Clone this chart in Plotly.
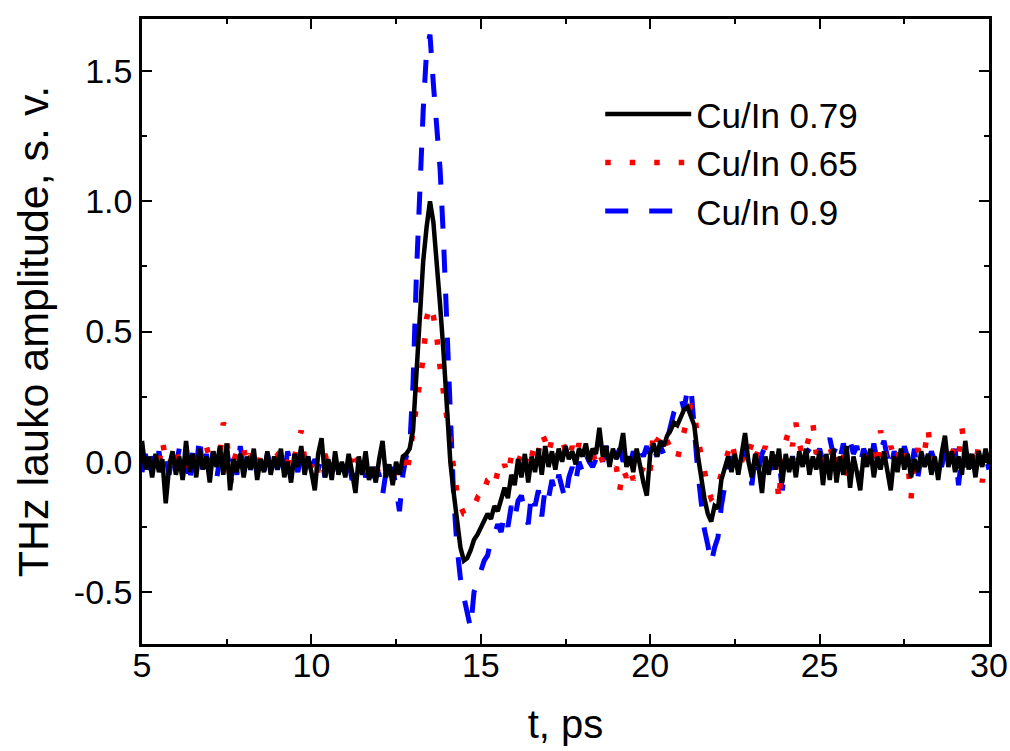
import plotly.graph_objects as go

t_start = 5.0
t_step = 0.1

black_079 = [
    0.08, -0.03, 0.02, -0.06, 0.03, -0.04, 0.01, -0.16, -0.02, 0.04,
    -0.05, 0.02, -0.07, 0.08, -0.04, 0.03, -0.06, 0.05, -0.03, 0.02,
    -0.08, 0.04, -0.02, 0.06, -0.05, 0.07, -0.11, 0.01, -0.04, 0.03,
    -0.06, 0.02, -0.03, 0.05, -0.07, 0.01, -0.04, 0.04, -0.05, 0.02,
    -0.03, 0.05, -0.06, 0.00, -0.08, 0.03, -0.02, 0.06, -0.05, 0.02,
    -0.04, -0.11, 0.03, 0.09, -0.06, 0.01, -0.07, 0.04, -0.05, 0.00,
    -0.06, 0.03, -0.04, -0.12, 0.02, -0.05, 0.04, -0.07, -0.02, -0.08,
    0.01, 0.08, -0.06, -0.01, -0.09, 0.00, -0.05, 0.02, 0.03, 0.05,
    0.12, 0.35, 0.58, 0.77, 0.90, 1.00, 0.92, 0.78, 0.60, 0.42,
    0.18, 0.00, -0.12, -0.24, -0.33, -0.38, -0.37, -0.34, -0.30, -0.28,
    -0.25, -0.22, -0.20, -0.22, -0.17, -0.19, -0.15, -0.10, -0.14, -0.05,
    -0.09, 0.01, -0.06, 0.03, -0.08, 0.02, -0.04, 0.05, -0.05, 0.06,
    -0.02, 0.04, -0.03, 0.05, 0.00, 0.06, 0.01, 0.04, -0.01, 0.05,
    0.02, 0.07, 0.00, 0.05, 0.03, 0.13, 0.02, 0.06, -0.02, 0.05,
    0.01, 0.04, 0.11, -0.02, 0.02, -0.04, 0.05, -0.02, -0.08, -0.13,
    0.03, 0.07, 0.02, 0.08, 0.06, 0.10, 0.12, 0.15, 0.14, 0.17,
    0.20, 0.21, 0.17, 0.14, 0.03, -0.07, -0.14, -0.20, -0.23, -0.17,
    -0.18, -0.07, -0.02, 0.02, -0.04, 0.03, -0.05, 0.04, 0.11, 0.00,
    -0.06, 0.03, -0.02, -0.12, 0.02, -0.05, 0.04, -0.03, 0.05, -0.08,
    0.03, -0.04, 0.02, -0.06, 0.04, -0.02, 0.05, -0.05, 0.02, -0.03,
    0.04, -0.09, 0.03, -0.07, 0.05, -0.08, 0.02, -0.05, 0.06, -0.10,
    0.02, -0.04, -0.11, 0.03, -0.02, 0.05, -0.06, 0.02, -0.03, 0.04,
    -0.05, -0.11, 0.02, -0.04, 0.05, -0.03, 0.03, -0.06, 0.01, -0.04,
    0.04, -0.02, 0.03, -0.05, 0.02, -0.07, 0.03, 0.10, -0.02, 0.04,
    -0.04, 0.02, -0.05, 0.08, -0.03, 0.03, -0.06, 0.04, -0.02, 0.05,
    -0.01,
]

red_065 = [
    0.01, 0.00, 0.03, -0.02, 0.02, -0.01, 0.08, 0.01, -0.02, 0.04,
    0.05, -0.01, 0.00, -0.03, 0.02, 0.04, -0.02, 0.03, 0.00, 0.06,
    0.01, 0.03, -0.02, 0.02, 0.15, 0.11, -0.10, 0.00, 0.04, 0.02,
    0.05, -0.01, 0.03, 0.00, -0.03, 0.02, 0.01, 0.03, -0.02, 0.04,
    0.03, 0.00, 0.02, -0.01, 0.05, 0.02, 0.08, 0.12, 0.01, 0.03,
    -0.02, 0.02, -0.04, 0.00, 0.03, -0.02, 0.01, -0.01, 0.02, -0.03,
    0.00, 0.03, 0.00, 0.05, -0.02, 0.00, -0.04, -0.01, -0.03, -0.05,
    -0.02, 0.00, -0.05, -0.02, -0.06, -0.03, -0.01, 0.02, -0.05, 0.02,
    0.12, 0.22, 0.30, 0.40, 0.55, 0.60, 0.56, 0.48, 0.36, 0.26,
    0.14, 0.04, -0.04, -0.12, -0.17, -0.20, -0.20, -0.18, -0.17, -0.14,
    -0.15, -0.10, -0.07, -0.06, -0.09, -0.04, -0.06, -0.01, -0.05, 0.02,
    0.04, 0.00, 0.03, -0.02, 0.05, 0.02, 0.07, 0.03, 0.11, 0.08,
    0.03, 0.09, 0.05, 0.02, 0.08, 0.04, 0.01, 0.06, 0.02, 0.07,
    0.03, 0.05, 0.00, 0.04, -0.01, 0.03, 0.00, -0.03, 0.02, -0.04,
    -0.02, -0.11, -0.03, -0.06, -0.02, -0.07, -0.03, -0.05, -0.02, -0.06,
    -0.03, 0.12, 0.08, 0.10, 0.12, 0.08, 0.05, 0.02, 0.01, 0.06,
    0.12, 0.18, 0.22, 0.20, 0.09, 0.03, -0.05, -0.10, -0.14, -0.13,
    -0.09, -0.05, -0.01, 0.03, 0.08, 0.02, 0.04, 0.00, 0.05, 0.03,
    0.07, 0.01, 0.05, 0.02, 0.06, -0.02, 0.03, -0.01, -0.15, 0.04,
    0.08, 0.12, 0.06, 0.15, 0.07, 0.02, 0.05, 0.10, 0.15, 0.03,
    0.06, 0.00, 0.03, 0.06, 0.01, 0.04, -0.02, 0.03, -0.06, 0.02,
    0.00, -0.03, -0.07, 0.03, 0.00, 0.05, 0.02, -0.02, 0.12, 0.04,
    0.00, 0.06, 0.02, 0.05, -0.02, 0.03, 0.00, -0.14, 0.02, 0.05,
    0.01, 0.04, 0.13, 0.00, 0.03, -0.03, 0.02, 0.05, 0.00, 0.03,
    0.06, 0.02, 0.13, 0.04, 0.01, 0.05, -0.02, 0.07, -0.08, 0.03,
    0.02,
]

blue_090 = [
    -0.04, 0.03, -0.05, 0.02, -0.03, 0.04, -0.04, 0.02, -0.05, 0.03,
    -0.02, 0.05, -0.06, 0.06, -0.09, 0.04, -0.03, 0.10, -0.06, 0.03,
    -0.05, 0.04, -0.07, 0.02, -0.03, 0.05, -0.04, 0.01, -0.05, 0.06,
    -0.02, 0.01, -0.03, 0.00, -0.02, 0.02, -0.04, 0.03, -0.02, 0.01,
    -0.03, 0.02, -0.05, 0.04, -0.02, 0.01, -0.04, 0.03, -0.03, 0.02,
    -0.05, 0.01, -0.03, 0.02, -0.06, 0.00, -0.02, 0.01, -0.04, -0.01,
    -0.05, 0.00, -0.07, -0.02, -0.04, 0.00, -0.06, -0.03, -0.08, -0.02,
    -0.05, -0.13, -0.04, -0.09, -0.02, -0.11, -0.19, -0.05, 0.02, 0.05,
    0.30, 0.72, 1.08, 1.35, 1.58, 1.64, 1.45, 1.27, 1.12, 0.85,
    0.48, 0.20, -0.14, -0.33, -0.45, -0.52, -0.58, -0.64, -0.50, -0.47,
    -0.42, -0.38, -0.36, -0.30, -0.28, -0.24, -0.27, -0.20, -0.25, -0.17,
    -0.22, -0.15, -0.13, -0.20, -0.24, -0.12, -0.17, -0.11, -0.21, -0.10,
    -0.14, -0.07, -0.12, -0.05, -0.10, -0.15, -0.06, -0.02, -0.08, 0.00,
    -0.04, 0.03, 0.00, -0.02, 0.01, 0.05, 0.00, 0.06, 0.02, 0.04,
    0.02, 0.05, 0.00, 0.03, -0.02, 0.04, 0.00, 0.05, 0.02, 0.06,
    0.01, 0.05, 0.02, 0.06, 0.03, 0.09, 0.15, 0.19, 0.22, 0.25,
    0.20, 0.28, 0.29, 0.10, -0.03, -0.15, -0.26, -0.32, -0.39, -0.33,
    -0.29, -0.17, -0.10, -0.02, 0.02, -0.01, 0.04, 0.01, 0.05, 0.00,
    -0.09, 0.02, -0.03, 0.03, 0.06, 0.00, -0.03, 0.03, 0.01, -0.11,
    0.00, -0.02, 0.02, -0.03, 0.01, -0.01, 0.03, 0.05, 0.07, 0.02,
    0.05, 0.00, 0.06, 0.09, 0.03, 0.06, 0.01, 0.07, 0.02, 0.08,
    0.03, 0.06, -0.01, 0.05, 0.02, -0.02, 0.07, 0.00, 0.04, 0.08,
    0.02, -0.03, 0.04, 0.00, -0.04, 0.06, 0.01, -0.03, 0.05, -0.06,
    0.02, 0.05, -0.01, 0.04, 0.00, 0.03, -0.02, 0.04, 0.01, -0.03,
    0.05, -0.09, 0.02, -0.02, 0.03, -0.05, 0.01, -0.01, 0.04, 0.02,
    -0.03,
]

series_names = ["Cu/In 0.79", "Cu/In 0.65", "Cu/In 0.9"]

x_ticks = [5, 10, 15, 20, 25, 30]
y_ticks = [-0.5, 0.0, 0.5, 1.0, 1.5]
y_tick_text = ["-0.5", "0.0", "0.5", "1.0", "1.5"]

t_vals = [round(t_start + i * t_step, 2) for i in range(len(black_079))]

FONT = "Liberation Sans, Arial, sans-serif"

fig = go.Figure()
fig.add_trace(go.Scatter(x=t_vals, y=blue_090, mode="lines", name=series_names[2],
                         line=dict(color="#0000ff", width=5, dash="23px,21px")))
fig.add_trace(go.Scatter(x=t_vals, y=red_065, mode="lines", name=series_names[1],
                         line=dict(color="#ff0000", width=5.5, dash="5.5px,19px")))
fig.add_trace(go.Scatter(x=t_vals, y=black_079, mode="lines", name=series_names[0],
                         line=dict(color="#000000", width=4.5)))

fig.update_layout(
    width=1010, height=751,
    margin=dict(l=142, r=21, t=19, b=107, autoexpand=False),
    paper_bgcolor="white", plot_bgcolor="white",
    font=dict(family=FONT, color="black", size=34),
    showlegend=True,
    legend=dict(
        x=0.541, y=0.895, xanchor="left", yanchor="top",
        bgcolor="rgba(0,0,0,0)", borderwidth=0,
        font=dict(family=FONT, size=35, color="black"),
        traceorder="reversed", itemwidth=86, tracegroupgap=0,
    ),
)

fig.update_xaxes(
    range=[5, 30], tickvals=x_ticks, ticktext=[str(v) for v in x_ticks],
    showgrid=False, zeroline=False, automargin=False,
    showline=True, linecolor="black", linewidth=2.5, mirror="ticks",
    ticks="inside", ticklen=10, tickwidth=2, tickcolor="black",
    minor=dict(ticks="inside", ticklen=5, tickwidth=2, tickcolor="black", dtick=2.5, tick0=5, showgrid=False),
    tickfont=dict(size=34, family=FONT),
    ticklabelstandoff=-11,
    title=dict(text="t, ps", font=dict(size=40, family=FONT), standoff=28),
)
fig.update_yaxes(
    range=[-0.7, 1.7], tickvals=y_ticks, ticktext=y_tick_text,
    showgrid=False, zeroline=False, automargin=False,
    showline=True, linecolor="black", linewidth=2.5, mirror="ticks",
    ticks="inside", ticklen=10, tickwidth=2, tickcolor="black",
    minor=dict(ticks="inside", ticklen=5, tickwidth=2, tickcolor="black", dtick=0.25, tick0=0, showgrid=False),
    tickfont=dict(size=34, family=FONT),
    title=dict(text="THz lauko amplitude, s. v.", font=dict(size=43, family=FONT), standoff=12),
)

fig.write_html("out.html", config={"displayModeBar": False},
               post_script="document.body.style.margin='0';")
